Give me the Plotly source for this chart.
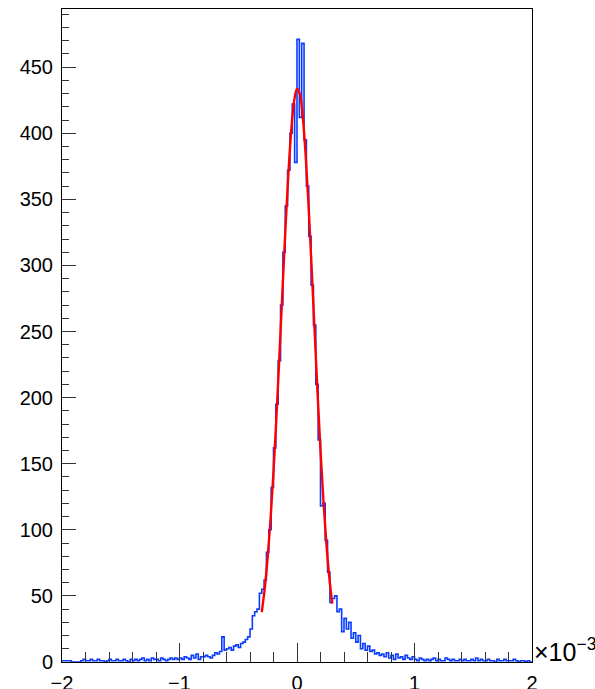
import plotly.graph_objects as go

# Histogram: 200 bins from -2 to 2 (units of 1e-3)
x_min = -2.0
x_max = 2.0
n_bins = 200
counts = [
    1, 1, 1, 1, 0, 0, 0, 0, 1, 2,
    1, 1, 2, 1, 1, 2, 1, 1, 0, 1,
    2, 1, 1, 2, 1, 1, 2, 1, 0, 2,
    1, 2, 1, 2, 3, 1, 2, 1, 3, 2,
    2, 1, 3, 2, 1, 2, 3, 2, 3, 2,
    3, 2, 4, 3, 2, 5, 3, 6, 2, 4,
    4, 5, 4, 3, 5, 7, 6, 8, 19, 9,
    10, 11, 9, 12, 13, 11, 14, 15, 17, 19,
    25, 35, 38, 40, 52, 55, 62, 83, 100, 132,
    162, 195, 228, 270, 310, 345, 372, 400, 422, 378,
    471, 412, 468, 395, 360, 322, 285, 255, 210, 168,
    118, 120, 92, 68, 45, 48, 50, 38, 40, 23,
    33, 25, 30, 18, 22, 15, 20, 10, 14, 9,
    12, 8, 9, 6, 7, 5, 6, 4, 7, 3,
    5, 2, 6, 3, 4, 2, 5, 3, 2, 4,
    2, 1, 3, 2, 1, 2, 1, 2, 3, 1,
    2, 1, 1, 3, 2, 1, 2, 1, 1, 2,
    1, 2, 1, 1, 2, 1, 3, 1, 2, 1,
    1, 2, 1, 1, 0, 2, 1, 1, 2, 1,
    1, 1, 2, 1, 0, 1, 1, 0, 1, 0,
]

# Fit curve
fit_x = [-0.300, -0.275, -0.250, -0.225, -0.200, -0.175, -0.150, -0.125, -0.100,
         -0.075, -0.050, -0.025, 0.000, 0.025, 0.050, 0.075, 0.100, 0.125, 0.150,
         0.175, 0.200, 0.225, 0.250, 0.275, 0.300]
fit_y = [37.7, 55.4, 78.7, 108.2, 143.9, 185.3, 231.0, 278.5, 324.9,
         366.9, 400.8, 423.9, 433.7, 429.5, 411.5, 381.6, 342.6, 297.4, 250.0,
         203.2, 160.0, 121.8, 89.8, 64.0, 44.1]

y_range = [0, 494]
x_tickvals = [-2, -1, 0, 1, 2]

width = (x_max - x_min) / n_bins
edges = [x_min + i * width for i in range(n_bins + 1)]
hist_y = counts + [counts[-1]]

fig = go.Figure()
fig.add_trace(go.Scatter(
    x=edges, y=hist_y, mode="lines", line_shape="hv",
    line=dict(color="#0a3cff", width=1.6), showlegend=False, hoverinfo="skip"))
fig.add_trace(go.Scatter(
    x=fit_x, y=fit_y, mode="lines", line_shape="spline",
    line=dict(color="#ff0000", width=2.4), showlegend=False, hoverinfo="skip"))

font = dict(family="Liberation Sans, Arial, sans-serif", size=20, color="black")

fig.update_layout(
    width=595, height=689,
    margin=dict(l=62, r=63, t=9, b=27, autoexpand=False),
    paper_bgcolor="white", plot_bgcolor="white",
    font=font,
    showlegend=False,
)
fig.update_xaxes(
    range=[x_min, x_max], showgrid=False, zeroline=False, automargin=False,
    showline=True, linecolor="black", linewidth=1, mirror=True,
    ticks="inside", ticklen=19, tickcolor="#333", tickwidth=1,
    tickvals=x_tickvals, ticktext=["\u22122", "\u22121", "0", "1", "2"],
    tickfont=font, ticklabelstandoff=3,
    minor=dict(ticks="inside", ticklen=10, dtick=0.2, tickcolor="#333", tickwidth=1, showgrid=False),
)
fig.update_yaxes(
    range=y_range, showgrid=False, zeroline=False, automargin=False,
    showline=True, linecolor="black", linewidth=1, mirror=True,
    ticks="inside", ticklen=14, tickcolor="#333", tickwidth=1,
    dtick=50, tick0=0, tickfont=font, ticklabelstandoff=4,
    minor=dict(ticks="inside", ticklen=7, dtick=10, tickcolor="#333", tickwidth=1, showgrid=False),
)
fig.add_annotation(
    text="\u00d710<sup>\u22123</sup>",
    xref="paper", yref="paper",
    x=1.0, y=0.0, xanchor="left", yanchor="bottom", xshift=0, yshift=-6,
    showarrow=False, font=dict(family="Liberation Sans, Arial, sans-serif", size=25, color="black"),
)

fig.write_html("out.html")
